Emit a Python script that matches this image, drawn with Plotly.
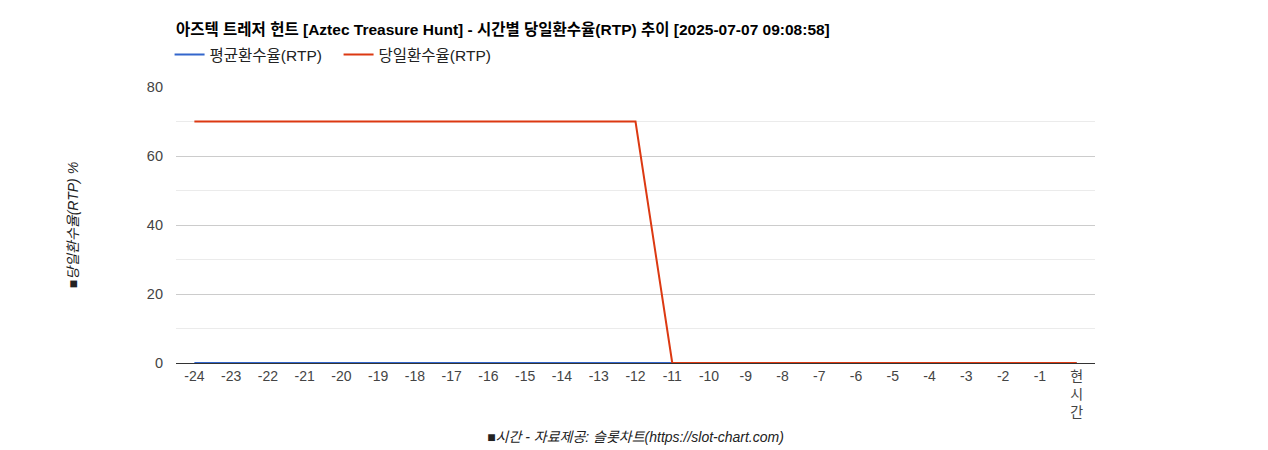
import plotly.graph_objects as go

# 시간 카테고리 (-24 ~ 현시간)
hours = [str(h) for h in range(-24, 0)] + ["현<br>시<br>간"]

# 평균환수율(RTP)
avg_rtp = [0] * 25

# 당일환수율(RTP)
daily_rtp = [70, 70, 70, 70, 70, 70, 70, 70, 70, 70, 70, 70, 70,
             0, 0, 0, 0, 0, 0, 0, 0, 0, 0, 0, 0]

FONT = "Arial, 'Liberation Sans', 'Noto Sans CJK KR', sans-serif"

fig = go.Figure()
fig.add_trace(go.Scatter(x=hours, y=avg_rtp, mode="lines", name="평균환수율(RTP)",
                         line=dict(color="#3366cc", width=2)))
fig.add_trace(go.Scatter(x=hours, y=daily_rtp, mode="lines", name="당일환수율(RTP)",
                         line=dict(color="#dc3912", width=2)))

# 페이지 body 여백(8px)을 고려한 여백값
fig.update_layout(
    width=1268, height=450,
    margin=dict(l=168, r=181, t=79, b=95, autoexpand=False),
    paper_bgcolor="white", plot_bgcolor="white",
    font=dict(family=FONT, size=14, color="#444"),
    title=dict(text="<b>아즈텍 트레저 헌트 [Aztec Treasure Hunt] - 시간별 당일환수율(RTP) 추이 [2025-07-07 09:08:58]</b>",
               x=168 / 1268, xanchor="left", y=1 - 22 / 450, yanchor="middle",
               font=dict(size=15.5, color="#000")),
    legend=dict(orientation="h", x=-0.007, xanchor="left", y=1.116, yanchor="middle",
                font=dict(size=15.5, color="#222"), entrywidth=124, entrywidthmode="pixels"),
    showlegend=True,
    xaxis=dict(type="category", range=[-0.5, 24.5], showgrid=False,
               showline=True, linecolor="#333", linewidth=1, ticks="",
               tickangle=0, tickfont=dict(size=14, color="#444"),
               title=dict(text="<i>■시간 - 자료제공: 슬롯차트(https://slot-chart.com)</i>",
                          font=dict(size=14, color="#222"), standoff=12)),
    yaxis=dict(range=[0, 80], dtick=20, showgrid=True, gridcolor="#cccccc",
               zeroline=False, ticks="", tickfont=dict(size=14.5, color="#444"),
               ticklabelstandoff=12,
               minor=dict(dtick=10, showgrid=True, gridcolor="#ebebeb"),
               title=dict(text="<i>■당일환수율(RTP) %</i>",
                          font=dict(size=14, color="#222"), standoff=64)),
)

fig.write_html("out.html")
